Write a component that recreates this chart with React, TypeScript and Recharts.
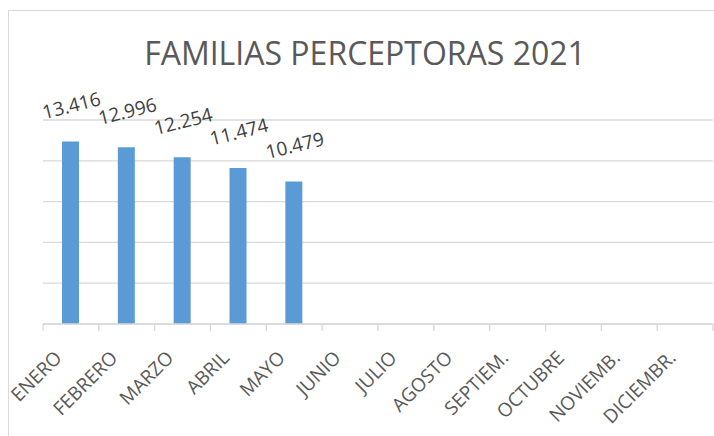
import React from 'react';
import { BarChart, Bar, XAxis, YAxis, CartesianGrid, LabelList } from 'recharts';

const months = [
  'ENERO', 'FEBRERO', 'MARZO', 'ABRIL', 'MAYO', 'JUNIO',
  'JULIO', 'AGOSTO', 'SEPTIEM.', 'OCTUBRE', 'NOVIEMB.', 'DICIEMBR.',
];
const familias: (number | null)[] = [13416, 12996, 12254, 11474, 10479, null, null, null, null, null, null, null];
const yTicks = [0, 3000, 6000, 9000, 12000, 15000];

const data = months.map((month, i) => ({ month, familias: familias[i] }));

const FONT = '"Open Sans", "Noto Sans", sans-serif';
const GRID = '#D9D9D9';

// 13416 -> "13.416"
const formatEs = (n: number) => String(n).replace(/\B(?=(\d{3})+(?!\d))/g, '.');

// tick marks sit on the band edges, labels end just under the band centre
const MonthTick = ({ x, y, payload, index }: any) => {
  const half = payload?.offset ?? 28;
  const tx = x - 8;
  const ty = y + 35;
  return (
    <g>
      <line x1={x - half} x2={x - half} y1={y} y2={y + 7} stroke={GRID} strokeWidth={1.3} />
      {index === months.length - 1 && (
        <line x1={x + half} x2={x + half} y1={y} y2={y + 7} stroke={GRID} strokeWidth={1.3} />
      )}
      <text
        x={tx}
        y={ty}
        textAnchor="end"
        transform={`rotate(-45, ${tx}, ${ty})`}
        fontSize={19}
        fontFamily={FONT}
        fill="#595959"
      >
        {payload.value}
      </text>
    </g>
  );
};

const ValueLabel = ({ x, y, width, value }: any) => {
  if (value == null) return null;
  return (
    <g transform={`translate(${x + width / 2 + 1}, ${y - 36}) rotate(-14)`}>
      <text x={0} y={0} dy="0.35em" textAnchor="middle" fontSize={19} fontFamily={FONT} fill="#404040">
        {formatEs(value)}
      </text>
    </g>
  );
};

export default function App() {
  return (
    <div style={{ position: 'absolute', left: 0, top: 0, width: 714, height: 436, overflow: 'hidden', background: '#fff' }}>
      <BarChart
        width={714}
        height={436}
        data={data}
        margin={{ top: 120, right: 1, bottom: 0, left: 43 }}
      >
        <CartesianGrid vertical={false} stroke={GRID} strokeWidth={1.3} />
        <YAxis hide width={0} domain={[0, 15000]} ticks={yTicks} />
        <XAxis
          dataKey="month"
          interval={0}
          height={112}
          tickSize={0}
          tickMargin={0}
          tickLine={false}
          axisLine={{ stroke: GRID, strokeWidth: 1.3 }}
          tick={<MonthTick />}
        />
        <Bar dataKey="familias" fill="#5B9BD5" barSize={17} isAnimationActive={false}>
          <LabelList dataKey="familias" content={<ValueLabel />} />
        </Bar>
      </BarChart>
      <svg width={714} height={436} style={{ position: 'absolute', left: 0, top: 0, pointerEvents: 'none' }}>
        <rect x={8.5} y={10.5} width={800} height={500} fill="none" stroke={GRID} strokeWidth={1} />
        <text x={365} y={65} textAnchor="middle" fontSize={32} fontFamily={FONT} fill="#595959">
          FAMILIAS PERCEPTORAS 2021
        </text>
      </svg>
    </div>
  );
}
